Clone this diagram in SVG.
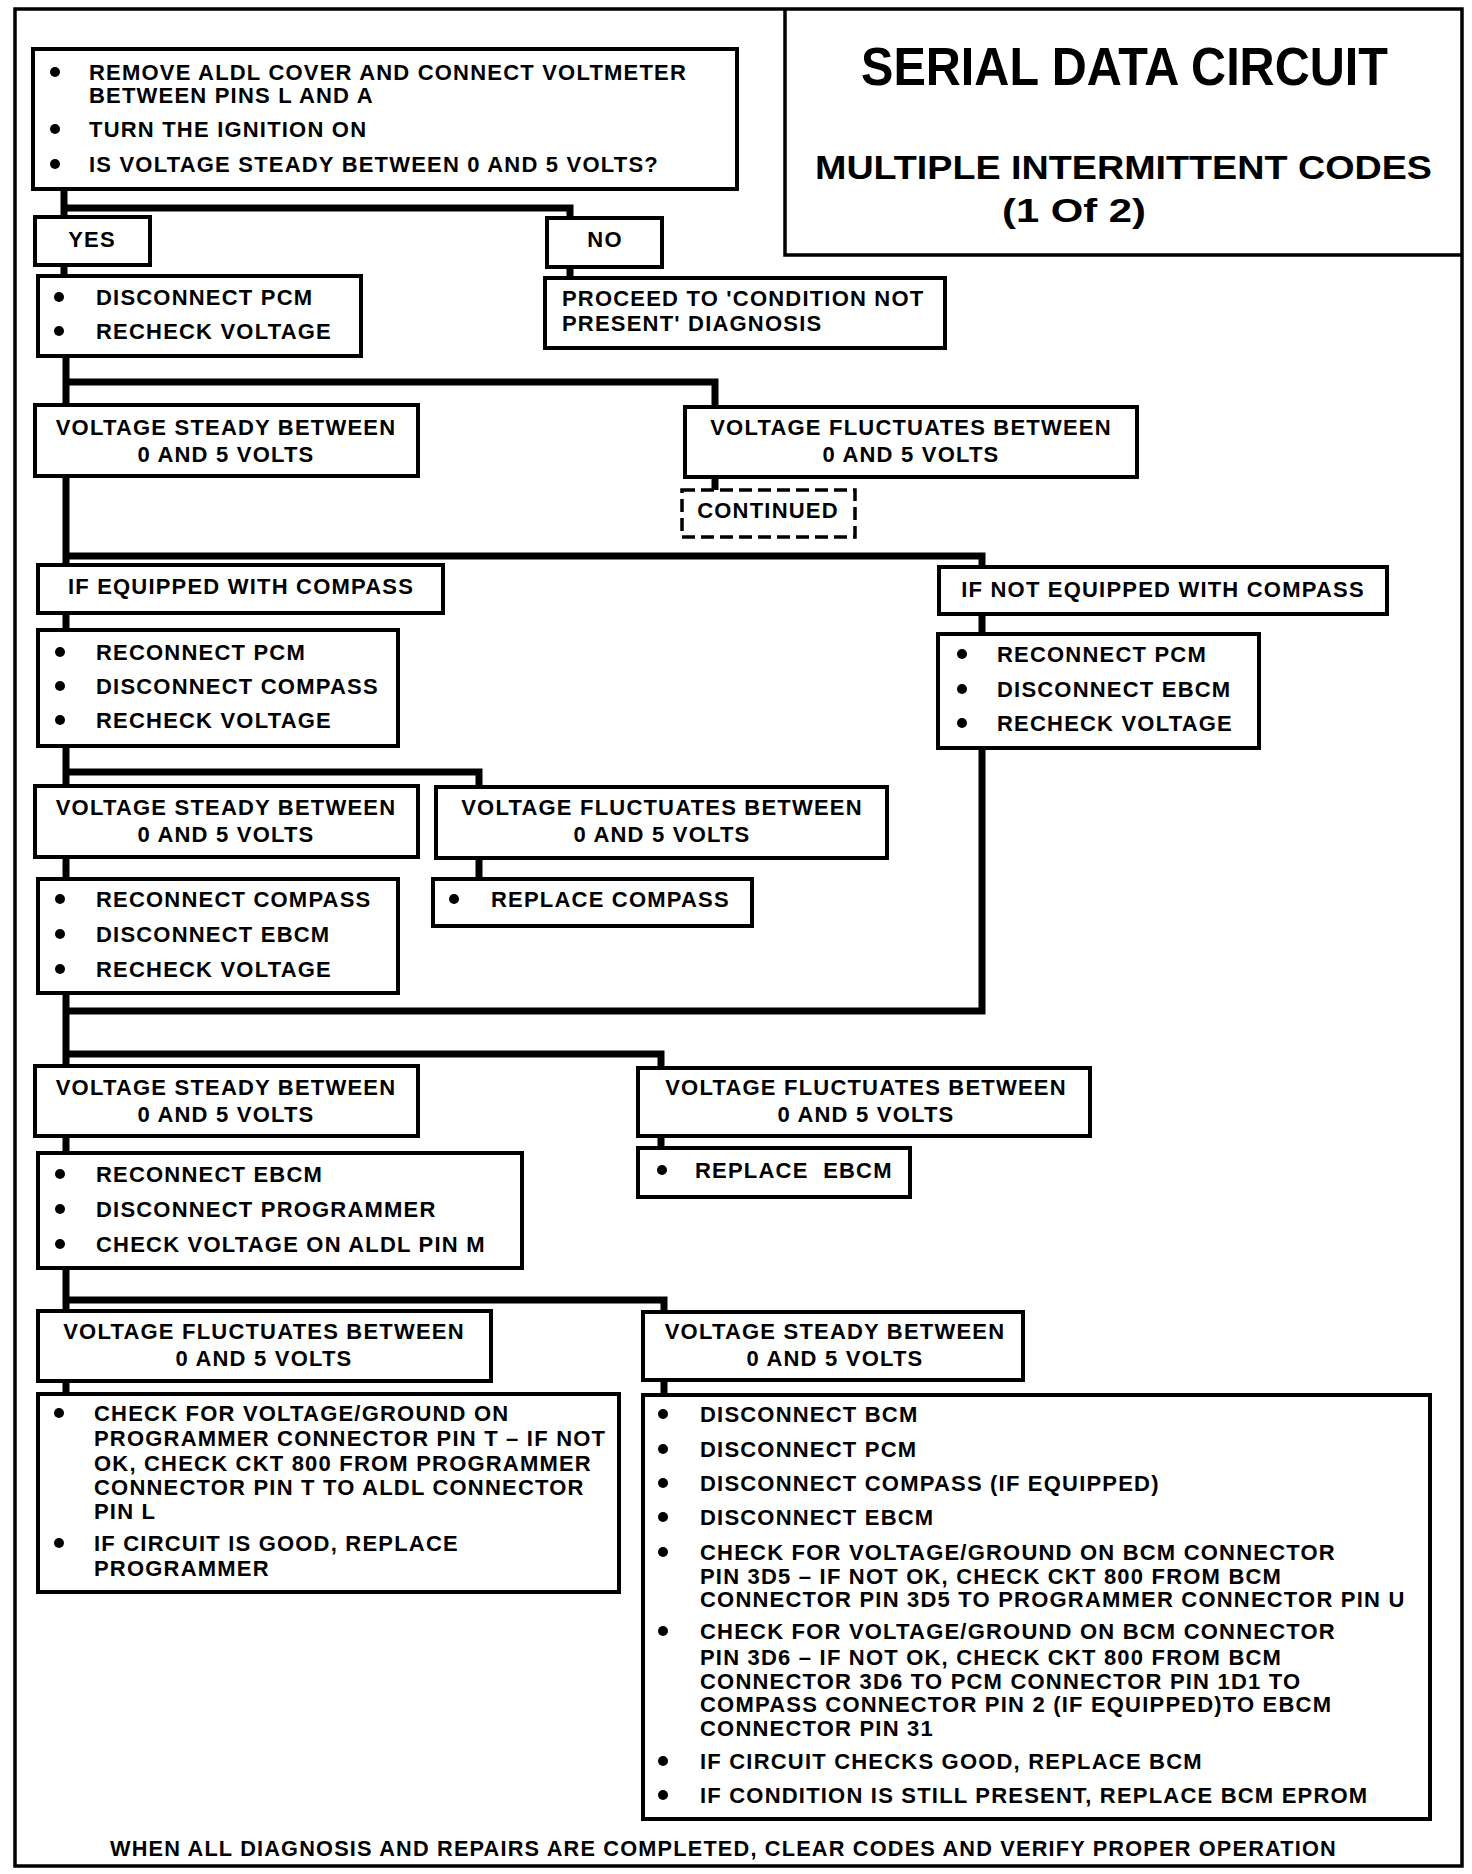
<svg xmlns="http://www.w3.org/2000/svg" width="1472" height="1874" viewBox="0 0 1472 1874">
<style>
.bg{fill:#fff}
.frame{fill:none;stroke:#000;stroke-width:3.5}
.box{fill:#fff;stroke:#000;stroke-width:4}
.dash{fill:#fff;stroke:#000;stroke-width:3.5;stroke-dasharray:13 6}
.con{fill:none;stroke:#000;stroke-width:7;stroke-linecap:square;stroke-linejoin:miter}
.t{font-family:"Liberation Sans",Arial,Helvetica,sans-serif;font-weight:bold;font-size:22px;letter-spacing:1.2px;fill:#000}
.c{text-anchor:middle}
.ttl{font-family:"Liberation Sans",Arial,Helvetica,sans-serif;font-weight:bold;fill:#000}
.pre{white-space:pre}
</style>
<defs>
<circle id="b" r="5" fill="#000"/>
</defs>
<rect class="bg" x="0" y="0" width="1472" height="1874"/>
<g id="frame">
<rect class="frame" x="15" y="9" width="1447" height="1857"/>
</g>
<g id="title">
<path class="frame" d="M785 9 V255 H1462"/>
<text class="ttl" x="861" y="85" font-size="53" textLength="527" lengthAdjust="spacingAndGlyphs">SERIAL DATA CIRCUIT</text>
<text class="ttl" x="815" y="179" font-size="34" textLength="617" lengthAdjust="spacingAndGlyphs">MULTIPLE INTERMITTENT CODES</text>
<text class="ttl" x="1002" y="222" font-size="34" textLength="144" lengthAdjust="spacingAndGlyphs">(1 Of 2)</text>
</g>
<g id="connectors">
<path class="con" d="M64 189 V217 M64 208 H570 V218"/>
<path class="con" d="M64 265 V276 M570 267 V278"/>
<path class="con" d="M66 356 V405 M66 382 H715 V407"/>
<path class="con" d="M715 477 V490"/>
<path class="con" d="M66 476 V565 M66 556 H982 V567"/>
<path class="con" d="M66 613 V630 M982 614 V634"/>
<path class="con" d="M66 746 V786 M66 772 H479 V787"/>
<path class="con" d="M66 857 V879 M479 858 V879"/>
<path class="con" d="M66 993 V1066 M982 748 V1011 H66 M66 1054 H661 V1068"/>
<path class="con" d="M66 1136 V1153 M661 1136 V1148"/>
<path class="con" d="M66 1268 V1311 M66 1300 H664 V1312"/>
<path class="con" d="M66 1381 V1394 M664 1380 V1395"/>
</g>
<g id="n-start">
<rect class="box" x="33" y="49" width="704" height="140"/>
<use href="#b" x="55" y="72"/><use href="#b" x="55" y="129"/><use href="#b" x="55" y="164"/>
<text class="t" x="89" y="80">REMOVE ALDL COVER AND CONNECT VOLTMETER</text>
<text class="t" x="89" y="103">BETWEEN PINS L AND A</text>
<text class="t" x="89" y="137">TURN THE IGNITION ON</text>
<text class="t" x="89" y="172">IS VOLTAGE STEADY BETWEEN 0 AND 5 VOLTS?</text>
</g>
<g id="n-yes">
<rect class="box" x="35" y="217" width="115" height="48"/>
<text class="t c" x="92" y="247">YES</text>
</g>
<g id="n-no">
<rect class="box" x="547" y="218" width="115" height="49"/>
<text class="t c" x="605" y="247">NO</text>
</g>
<g id="n-disc-pcm">
<rect class="box" x="38" y="276" width="323" height="80"/>
<use href="#b" x="59" y="297"/><use href="#b" x="59" y="331"/>
<text class="t" x="96" y="305">DISCONNECT PCM</text>
<text class="t" x="96" y="339">RECHECK VOLTAGE</text>
</g>
<g id="n-proceed">
<rect class="box" x="545" y="278" width="400" height="70"/>
<text class="t" x="562" y="306">PROCEED TO 'CONDITION NOT</text>
<text class="t" x="562" y="331">PRESENT' DIAGNOSIS</text>
</g>
<g id="n-steady1">
<rect class="box" x="35" y="405" width="383" height="71"/>
<text class="t c" x="226" y="435">VOLTAGE STEADY BETWEEN</text>
<text class="t c" x="226" y="462">0 AND 5 VOLTS</text>
</g>
<g id="n-fluct1">
<rect class="box" x="685" y="407" width="452" height="70"/>
<text class="t c" x="911" y="435">VOLTAGE FLUCTUATES BETWEEN</text>
<text class="t c" x="911" y="462">0 AND 5 VOLTS</text>
</g>
<g id="n-continued">
<rect class="dash" x="682" y="490" width="173" height="47"/>
<text class="t c" x="768" y="518">CONTINUED</text>
</g>
<g id="n-if-eq">
<rect class="box" x="38" y="565" width="405" height="48"/>
<text class="t c" x="241" y="594">IF EQUIPPED WITH COMPASS</text>
</g>
<g id="n-if-not">
<rect class="box" x="939" y="567" width="448" height="47"/>
<text class="t c" x="1163" y="597">IF NOT EQUIPPED WITH COMPASS</text>
</g>
<g id="n-rec-l">
<rect class="box" x="38" y="630" width="360" height="116"/>
<use href="#b" x="60" y="652"/><use href="#b" x="60" y="686"/><use href="#b" x="60" y="720"/>
<text class="t" x="96" y="660">RECONNECT PCM</text>
<text class="t" x="96" y="694">DISCONNECT COMPASS</text>
<text class="t" x="96" y="728">RECHECK VOLTAGE</text>
</g>
<g id="n-rec-r">
<rect class="box" x="938" y="634" width="321" height="114"/>
<use href="#b" x="962" y="654"/><use href="#b" x="962" y="689"/><use href="#b" x="962" y="723"/>
<text class="t" x="997" y="662">RECONNECT PCM</text>
<text class="t" x="997" y="697">DISCONNECT EBCM</text>
<text class="t" x="997" y="731">RECHECK VOLTAGE</text>
</g>
<g id="n-steady2">
<rect class="box" x="35" y="786" width="383" height="71"/>
<text class="t c" x="226" y="815">VOLTAGE STEADY BETWEEN</text>
<text class="t c" x="226" y="842">0 AND 5 VOLTS</text>
</g>
<g id="n-fluct2">
<rect class="box" x="436" y="787" width="451" height="71"/>
<text class="t c" x="662" y="815">VOLTAGE FLUCTUATES BETWEEN</text>
<text class="t c" x="662" y="842">0 AND 5 VOLTS</text>
</g>
<g id="n-rec-comp">
<rect class="box" x="38" y="879" width="360" height="114"/>
<use href="#b" x="60" y="899"/><use href="#b" x="60" y="934"/><use href="#b" x="60" y="969"/>
<text class="t" x="96" y="907">RECONNECT COMPASS</text>
<text class="t" x="96" y="942">DISCONNECT EBCM</text>
<text class="t" x="96" y="977">RECHECK VOLTAGE</text>
</g>
<g id="n-repl-comp">
<rect class="box" x="433" y="879" width="319" height="47"/>
<use href="#b" x="454" y="899"/>
<text class="t" x="491" y="907">REPLACE COMPASS</text>
</g>
<g id="n-steady3">
<rect class="box" x="35" y="1066" width="383" height="70"/>
<text class="t c" x="226" y="1095">VOLTAGE STEADY BETWEEN</text>
<text class="t c" x="226" y="1122">0 AND 5 VOLTS</text>
</g>
<g id="n-fluct3">
<rect class="box" x="638" y="1068" width="452" height="68"/>
<text class="t c" x="866" y="1095">VOLTAGE FLUCTUATES BETWEEN</text>
<text class="t c" x="866" y="1122">0 AND 5 VOLTS</text>
</g>
<g id="n-rec-ebcm">
<rect class="box" x="38" y="1153" width="484" height="115"/>
<use href="#b" x="60" y="1174"/><use href="#b" x="60" y="1209"/><use href="#b" x="60" y="1244"/>
<text class="t" x="96" y="1182">RECONNECT EBCM</text>
<text class="t" x="96" y="1217">DISCONNECT PROGRAMMER</text>
<text class="t" x="96" y="1252">CHECK VOLTAGE ON ALDL PIN M</text>
</g>
<g id="n-repl-ebcm">
<rect class="box" x="638" y="1148" width="272" height="49"/>
<use href="#b" x="662" y="1170"/>
<text class="t pre" x="695" y="1178">REPLACE  EBCM</text>
</g>
<g id="n-fluct4">
<rect class="box" x="38" y="1311" width="453" height="70"/>
<text class="t c" x="264" y="1339">VOLTAGE FLUCTUATES BETWEEN</text>
<text class="t c" x="264" y="1366">0 AND 5 VOLTS</text>
</g>
<g id="n-steady4">
<rect class="box" x="643" y="1312" width="380" height="68"/>
<text class="t c" x="835" y="1339">VOLTAGE STEADY BETWEEN</text>
<text class="t c" x="835" y="1366">0 AND 5 VOLTS</text>
</g>
<g id="n-check-l">
<rect class="box" x="38" y="1394" width="581" height="198"/>
<use href="#b" x="59" y="1413"/><use href="#b" x="59" y="1543"/>
<text class="t" x="94" y="1421">CHECK FOR VOLTAGE/GROUND ON</text>
<text class="t" x="94" y="1446">PROGRAMMER CONNECTOR PIN T – IF NOT</text>
<text class="t" x="94" y="1471">OK, CHECK CKT 800 FROM PROGRAMMER</text>
<text class="t" x="94" y="1495">CONNECTOR PIN T TO ALDL CONNECTOR</text>
<text class="t" x="94" y="1519">PIN L</text>
<text class="t" x="94" y="1551">IF CIRCUIT IS GOOD, REPLACE</text>
<text class="t" x="94" y="1576">PROGRAMMER</text>
</g>
<g id="n-check-r">
<rect class="box" x="643" y="1395" width="787" height="424"/>
<use href="#b" x="663" y="1414"/><use href="#b" x="663" y="1449"/><use href="#b" x="663" y="1483"/><use href="#b" x="663" y="1517"/><use href="#b" x="663" y="1552"/><use href="#b" x="663" y="1631"/><use href="#b" x="663" y="1761"/><use href="#b" x="663" y="1795"/>
<text class="t" x="700" y="1422">DISCONNECT BCM</text>
<text class="t" x="700" y="1457">DISCONNECT PCM</text>
<text class="t" x="700" y="1491">DISCONNECT COMPASS (IF EQUIPPED)</text>
<text class="t" x="700" y="1525">DISCONNECT EBCM</text>
<text class="t" x="700" y="1560">CHECK FOR VOLTAGE/GROUND ON BCM CONNECTOR</text>
<text class="t" x="700" y="1584">PIN 3D5 – IF NOT OK, CHECK CKT 800 FROM BCM</text>
<text class="t" x="700" y="1607">CONNECTOR PIN 3D5 TO PROGRAMMER CONNECTOR PIN U</text>
<text class="t" x="700" y="1639">CHECK FOR VOLTAGE/GROUND ON BCM CONNECTOR</text>
<text class="t" x="700" y="1665">PIN 3D6 – IF NOT OK, CHECK CKT 800 FROM BCM</text>
<text class="t" x="700" y="1689">CONNECTOR 3D6 TO PCM CONNECTOR PIN 1D1 TO</text>
<text class="t" x="700" y="1712">COMPASS CONNECTOR PIN 2 (IF EQUIPPED)TO EBCM</text>
<text class="t" x="700" y="1736">CONNECTOR PIN 31</text>
<text class="t" x="700" y="1769">IF CIRCUIT CHECKS GOOD, REPLACE BCM</text>
<text class="t" x="700" y="1803">IF CONDITION IS STILL PRESENT, REPLACE BCM EPROM</text>
</g>
<g id="footer">
<text class="t" x="110" y="1856" textLength="1227" lengthAdjust="spacingAndGlyphs">WHEN ALL DIAGNOSIS AND REPAIRS ARE COMPLETED, CLEAR CODES AND VERIFY PROPER OPERATION</text>
</g>
</svg>
